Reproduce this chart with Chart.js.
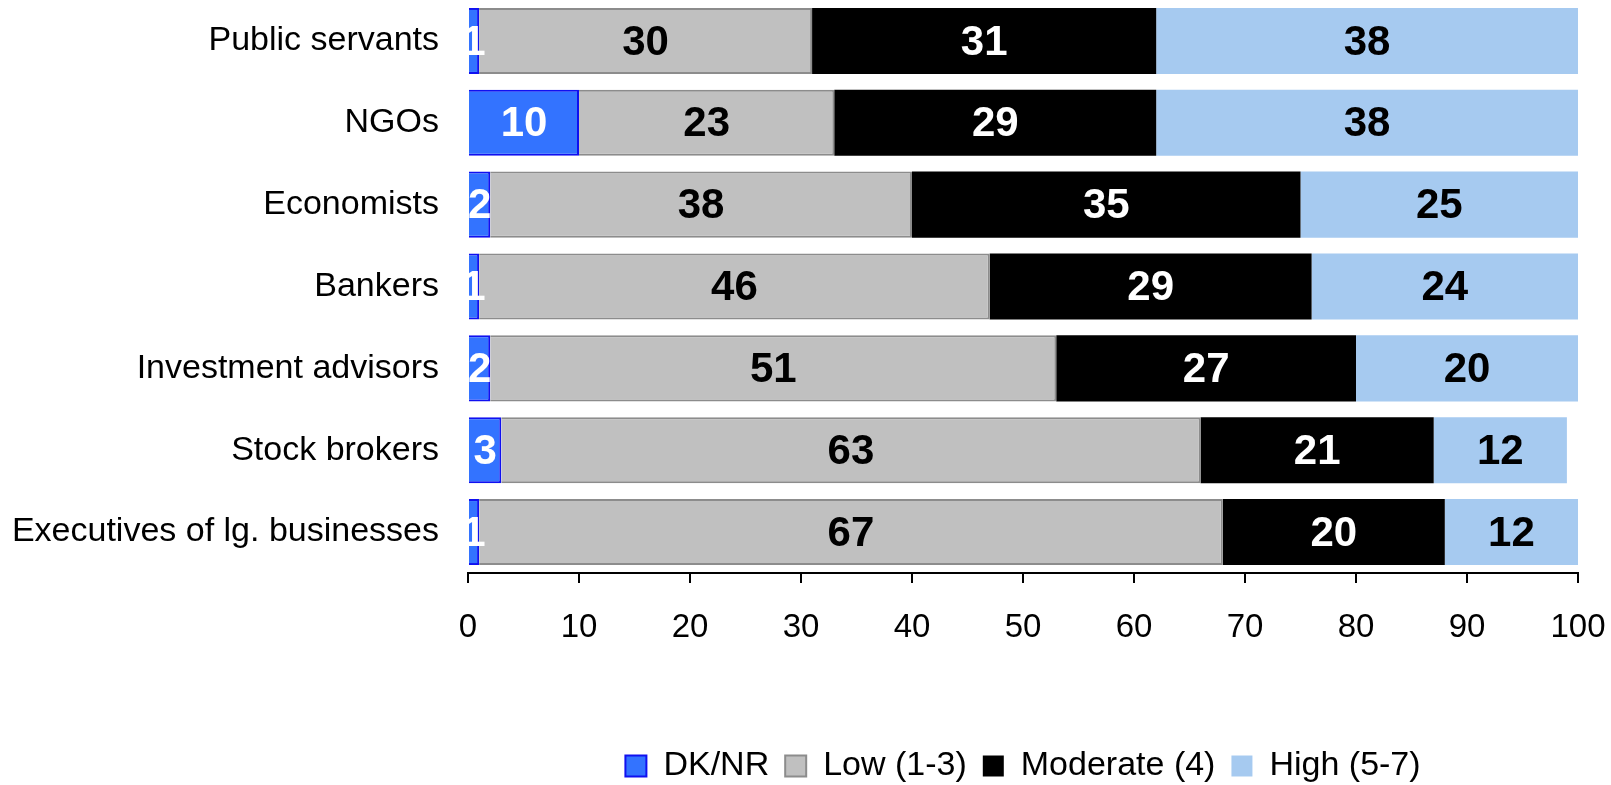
<!DOCTYPE html>
<html>
<head>
<meta charset="utf-8">
<script src="https://cdn.jsdelivr.net/npm/chart.js@4.4.1/dist/chart.umd.min.js"></script>
<style>
  html, body { margin: 0; padding: 0; background: #fff; }
  #wrap { width: 1611px; height: 785px; }
</style>
</head>
<body>
<div id="wrap"><canvas id="chart"></canvas></div>
<script>
const categories = [
  'Public servants',
  'NGOs',
  'Economists',
  'Bankers',
  'Investment advisors',
  'Stock brokers',
  'Executives of lg. businesses'
];
const dkNr     = [1, 10, 2, 1, 2, 3, 1];
const low      = [30, 23, 38, 46, 51, 63, 67];
const moderate = [31, 29, 35, 29, 27, 21, 20];
const high     = [38, 38, 25, 24, 20, 12, 12];
const xTicks   = [0, 10, 20, 30, 40, 50, 60, 70, 80, 90, 100];

const FONT = '"Liberation Sans", Arial, Helvetica, sans-serif';

// draws the value in the middle of each bar segment
const barValues = {
  id: 'barValues',
  afterDatasetsDraw(chart) {
    const ctx = chart.ctx;
    ctx.save();
    ctx.font = 'bold 42px ' + FONT;
    ctx.textAlign = 'center';
    ctx.textBaseline = 'middle';
    chart.data.datasets.forEach((ds, i) => {
      const meta = chart.getDatasetMeta(i);
      meta.data.forEach((bar, j) => {
        const p = bar.getCenterPoint();
        ctx.fillStyle = ds.labelColor;
        ctx.fillText(String(ds.data[j]), p.x, p.y + 2);
      });
    });
    ctx.restore();
  }
};

new Chart(document.getElementById('chart'), {
  type: 'bar',
  data: {
    labels: categories,
    datasets: [
      { label: 'DK/NR', data: dkNr, backgroundColor: '#3373ff', borderColor: '#1010f0', borderWidth: 2, labelColor: '#fff' },
      { label: 'Low (1-3)', data: low, backgroundColor: '#c0c0c0', borderColor: '#8c8c8c', borderWidth: 2, labelColor: '#000' },
      { label: 'Moderate (4)', data: moderate, backgroundColor: '#000000', borderColor: '#000000', borderWidth: 0, labelColor: '#fff' },
      { label: 'High (5-7)', data: high, backgroundColor: '#a6caf0', borderColor: '#a6caf0', borderWidth: 0, labelColor: '#000' }
    ]
  },
  options: {
    indexAxis: 'y',
    responsive: true,
    maintainAspectRatio: false,
    animation: false,
    categoryPercentage: 1,
    barPercentage: 0.807,
    layout: { autoPadding: false, padding: { top: 0, right: 33, bottom: -8, left: 0 } },
    scales: {
      x: {
        stacked: true,
        min: 0,
        max: 100,
        afterBuildTicks: axis => { axis.ticks = xTicks.map(v => ({ value: v })); },
        afterFit: axis => {
          axis.height = 160;
          axis.paddingLeft = 0;
          axis.paddingRight = 0;
        },
        grid: { drawOnChartArea: false, drawTicks: true, tickLength: 10, color: '#000', lineWidth: 2 },
        border: { display: true, color: '#000', width: 2 },
        ticks: { color: '#000', font: { family: FONT, size: 33 }, padding: 25, maxRotation: 0 }
      },
      y: {
        stacked: true,
        afterFit: axis => {
          axis.width = 468;
          axis.paddingTop = 0;
          axis.paddingBottom = 0;
        },
        grid: { display: false, drawTicks: false },
        border: { display: false },
        ticks: { color: '#000', font: { family: FONT, size: 34 }, padding: 29 }
      }
    },
    plugins: {
      legend: {
        position: 'bottom',
        fullSize: false,
        labels: {
          color: '#000',
          font: { family: FONT, size: 34 },
          boxWidth: 21,
          boxHeight: 21,
          padding: 16
        }
      },
      tooltip: { enabled: false }
    }
  },
  plugins: [barValues]
});
</script>
</body>
</html>
